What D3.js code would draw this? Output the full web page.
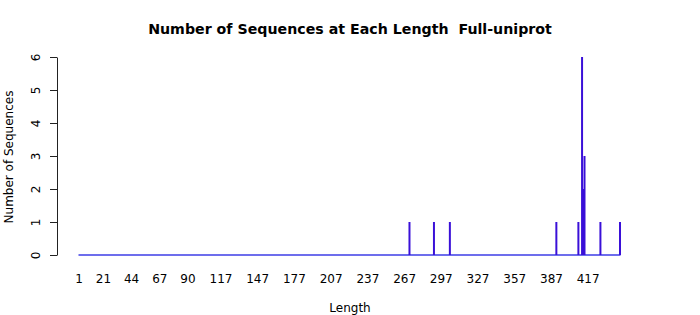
<!DOCTYPE html>
<html>
<head>
<meta charset="utf-8">
<script src="https://cdn.jsdelivr.net/npm/d3@7"></script>
<style>
  body { margin: 0; background: #fff; }
  text { font-family: "DejaVu Sans", sans-serif; }
</style>
</head>
<body>
<div id="chart"></div>
<script>
// sequence lengths that occur, and how many sequences have each
const lengths = [271, 291, 304, 391, 409, 412, 413, 414, 427, 443];
const counts  = [1, 1, 1, 1, 1, 6, 2, 3, 1, 1];
const maxLength = 443;
const xTickLabels = [1, 21, 44, 67, 90, 117, 147, 177, 207, 237, 267, 297, 327, 357, 387, 417];
const yTicks = [0, 1, 2, 3, 4, 5, 6];

const width = 700, height = 315;
const barColor = "#3a10d8";

const svg = d3.select("#chart").append("svg")
    .attr("width", width)
    .attr("height", height);

const x = d3.scaleLinear().domain([1, maxLength]).range([79, 620]);
const y = d3.scaleLinear().domain([0, 6]).range([255, 57]);

// title (two spaces kept on purpose)
svg.append("text")
    .attr("x", 350).attr("y", 34)
    .attr("text-anchor", "middle")
    .style("font-size", "14.2px")
    .style("font-weight", "bold")
    .style("white-space", "pre")
    .text("Number of Sequences at Each Length  Full-uniprot");

// zero-height bars show up as a line along the bottom
svg.append("line")
    .attr("x1", x(1) - 0.5).attr("x2", x(maxLength) + 0.5)
    .attr("y1", y(0)).attr("y2", y(0))
    .attr("stroke", "#3c3ce6")
    .attr("stroke-width", 1.5);

svg.selectAll("line.bar")
    .data(d3.zip(lengths, counts))
    .join("line")
    .attr("class", "bar")
    .attr("x1", d => x(d[0])).attr("x2", d => x(d[0]))
    .attr("y1", y(0)).attr("y2", d => y(d[1]))
    .attr("stroke", barColor)
    .attr("stroke-width", 2);

// y axis
const yAxis = svg.append("g")
    .attr("transform", "translate(57,0)")
    .call(d3.axisLeft(y).tickValues(yTicks).tickSize(7).tickSizeOuter(0).tickFormat(d3.format("d")));
yAxis.select(".domain").attr("stroke", "#222");
yAxis.selectAll(".tick line").attr("stroke", "#222");
yAxis.selectAll(".tick text")
    .attr("x", null).attr("dy", "0.35em")
    .attr("transform", "translate(-21,0) rotate(-90)")
    .attr("text-anchor", "middle")
    .attr("fill", "#000")
    .style("font-size", "12px");

// x labels (no ticks)
svg.append("g").selectAll("text")
    .data(xTickLabels)
    .join("text")
    .attr("x", d => x(d))
    .attr("y", 283)
    .attr("text-anchor", "middle")
    .style("font-size", "12px")
    .text(d => d);

svg.append("text")
    .attr("x", 350).attr("y", 312)
    .attr("text-anchor", "middle")
    .style("font-size", "12px")
    .text("Length");

svg.append("text")
    .attr("transform", "translate(13,157) rotate(-90)")
    .attr("text-anchor", "middle")
    .style("font-size", "12px")
    .text("Number of Sequences");
</script>
</body>
</html>
